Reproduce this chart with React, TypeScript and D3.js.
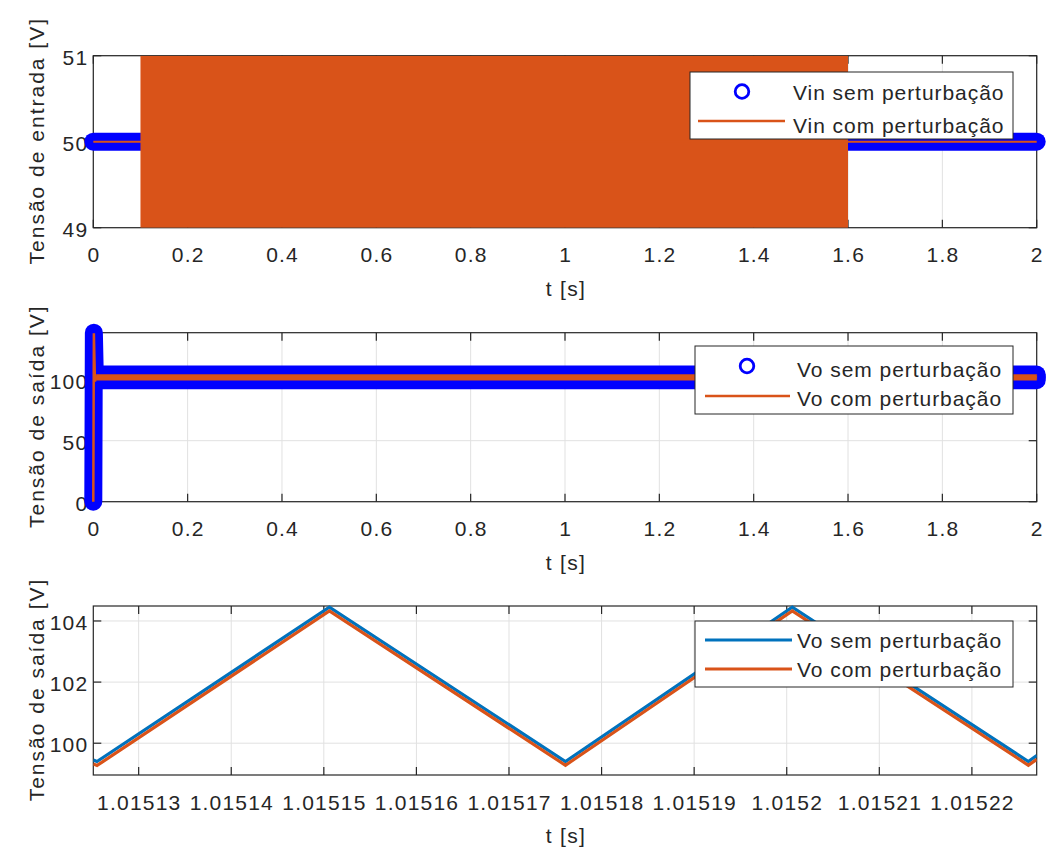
import React, { useEffect, useRef } from 'react';
import * as d3 from 'd3';

// eixos
const fullTicks = [0, 0.2, 0.4, 0.6, 0.8, 1, 1.2, 1.4, 1.6, 1.8, 2];
const fullTickLabels = ['0', '0.2', '0.4', '0.6', '0.8', '1', '1.2', '1.4', '1.6', '1.8', '2'];
const vinYTicks = [49, 50, 51];
const voYTicks = [0, 50, 100];
const zoomXTicks = [1.01513, 1.01514, 1.01515, 1.01516, 1.01517, 1.01518, 1.01519, 1.0152, 1.01521, 1.01522];
const zoomXTickLabels = ['1.01513', '1.01514', '1.01515', '1.01516', '1.01517', '1.01518', '1.01519', '1.0152', '1.01521', '1.01522'];
const zoomYTicks = [100, 102, 104];

// tensão de entrada
const vinT = [0, 2];
const vinSem = [50, 50];
const vinComT = [0, 0.1, 0.1, 1.6, 1.6, 2];
const vinComMin = [50, 50, 49, 49, 50, 50];
const vinComMax = [50, 50, 51, 51, 50, 50];

// tensão de saída (simulação completa)
const voT = [0, 0.0012, 0.0035, 0.006, 2];
const voSem = [0, 138.5, 98, 102, 102];
const voCom = [0, 138, 98.5, 102, 102];
const voRippleT = [0.006, 2];
const voRippleMin = [99.6, 99.6];
const voRippleMax = [104.2, 104.2];

// tensão de saída (zoom)
const zoomT = [1.0151251, 1.0151255, 1.0151506, 1.0151761, 1.0152006, 1.0152261, 1.015227];
const voSemZoom = [99.45, 99.4, 104.45, 99.4, 104.45, 99.4, 99.6];
const voComZoom = [99.32, 99.27, 104.33, 99.28, 104.33, 99.28, 99.47];

const FONT = '"Liberation Sans", Arial, Helvetica, sans-serif';
const TXT = '#262626';
const ORANGE = '#D95319';
const BLUE = '#0072BD';
const MARK = '#0000FF';

const App = () => {
  const ref = useRef<SVGSVGElement>(null);

  useEffect(() => {
    const svg = d3.select(ref.current);
    svg.selectAll('*').remove();

    const left = 93.3;
    const right = 1036.7;

    const drawAxes = (
      g: any, x: any, y: any, top: number, bottom: number,
      xt: number[], xl: string[], yt: number[], ylabel: string
    ) => {
      // grade
      g.append('g').selectAll('line').data(xt).enter().append('line')
        .attr('x1', (d: number) => x(d)).attr('x2', (d: number) => x(d))
        .attr('y1', top).attr('y2', bottom)
        .attr('stroke', '#e1e1e1').attr('stroke-width', 1);
      g.append('g').selectAll('line').data(yt).enter().append('line')
        .attr('x1', left).attr('x2', right)
        .attr('y1', (d: number) => y(d)).attr('y2', (d: number) => y(d))
        .attr('stroke', '#e1e1e1').attr('stroke-width', 1);

      // caixa
      g.append('rect')
        .attr('x', left).attr('y', top)
        .attr('width', right - left).attr('height', bottom - top)
        .attr('fill', 'none').attr('stroke', TXT).attr('stroke-width', 1.2);

      const tl = 8;
      const ticks = g.append('g').attr('stroke', TXT).attr('stroke-width', 1.2);
      xt.forEach(d => {
        ticks.append('line').attr('x1', x(d)).attr('x2', x(d)).attr('y1', bottom).attr('y2', bottom - tl);
        ticks.append('line').attr('x1', x(d)).attr('x2', x(d)).attr('y1', top).attr('y2', top + tl);
      });
      yt.forEach(d => {
        ticks.append('line').attr('x1', left).attr('x2', left + tl).attr('y1', y(d)).attr('y2', y(d));
        ticks.append('line').attr('x1', right).attr('x2', right - tl).attr('y1', y(d)).attr('y2', y(d));
      });

      // rótulos
      g.append('g').selectAll('text').data(xt).enter().append('text')
        .attr('x', (d: number) => x(d) + 0.6).attr('y', bottom + 34.5)
        .attr('text-anchor', 'middle')
        .style('font-family', FONT).style('font-size', '21px').style('letter-spacing', '1.2px')
        .attr('fill', TXT)
        .text((d: number, i: number) => xl[i]);
      g.append('g').selectAll('text').data(yt).enter().append('text')
        .attr('x', left - 5).attr('y', (d: number) => y(d) + 9)
        .attr('text-anchor', 'end')
        .style('font-family', FONT).style('font-size', '21px').style('letter-spacing', '1.2px')
        .attr('fill', TXT)
        .text((d: number) => String(d));

      g.append('text')
        .attr('x', (left + right) / 2 + 1).attr('y', bottom + 68)
        .attr('text-anchor', 'middle')
        .style('font-family', FONT).style('font-size', '21px').style('letter-spacing', '1.3px')
        .attr('fill', TXT)
        .text('t [s]');
      g.append('text')
        .attr('transform', `translate(43.5,${(top + bottom) / 2 - 1}) rotate(-90)`)
        .attr('text-anchor', 'middle')
        .style('font-family', FONT).style('font-size', '21px').style('letter-spacing', '2px')
        .attr('fill', TXT)
        .text(ylabel);
    };

    const drawLegend = (g: any, box: number[], items: any[]) => {
      const [x0, y0, x1, y1] = box;
      g.append('rect')
        .attr('x', x0).attr('y', y0).attr('width', x1 - x0).attr('height', y1 - y0)
        .attr('fill', '#fff').attr('stroke', TXT).attr('stroke-width', 1);
      items.forEach(it => {
        if (it.kind === 'circle') {
          g.append('circle').attr('cx', it.mx).attr('cy', it.my).attr('r', 6.8)
            .attr('fill', 'none').attr('stroke', MARK).attr('stroke-width', 2.8);
        } else {
          g.append('line').attr('x1', it.lx0).attr('x2', it.lx1).attr('y1', it.my).attr('y2', it.my)
            .attr('stroke', it.color).attr('stroke-width', it.w);
        }
        g.append('text')
          .attr('x', it.tx).attr('y', it.ty)
          .style('font-family', FONT).style('font-size', '21px').style('letter-spacing', '0.95px')
          .attr('fill', TXT)
          .text(it.label);
      });
    };

    // ---------- painel 1 ----------
    const p1 = { top: 55.7, bottom: 227.7 };
    const x1 = d3.scaleLinear().domain([0, 2]).range([left, right]);
    const y1 = d3.scaleLinear().domain([49, 51]).range([p1.bottom, p1.top]);
    const g1 = svg.append('g');
    drawAxes(g1, x1, y1, p1.top, p1.bottom, fullTicks, fullTickLabels, vinYTicks, 'Tensão de entrada [V]');

    g1.append('clipPath').attr('id', 'clip1').append('rect')
      .attr('x', left).attr('y', p1.top).attr('width', right - left).attr('height', p1.bottom - p1.top);

    const vinSemData = vinT.map((t, i) => ({ t, v: vinSem[i] }));
    const vinLine = d3.line<any>().x(d => x1(d.t)).y(d => y1(d.v));
    g1.append('path').datum(vinSemData).attr('d', vinLine)
      .attr('fill', 'none').attr('stroke', MARK).attr('stroke-width', 18)
      .attr('stroke-linecap', 'round');

    const vinComData = vinComT.map((t, i) => ({ t, lo: vinComMin[i], hi: vinComMax[i] }));
    g1.append('path').datum(vinComData)
      .attr('d', d3.area<any>().x(d => x1(d.t)).y0(d => y1(d.lo)).y1(d => y1(d.hi)))
      .attr('fill', ORANGE).attr('clip-path', 'url(#clip1)');
    g1.append('path').datum(vinComData)
      .attr('d', d3.line<any>().x(d => x1(d.t)).y(d => y1((d.lo + d.hi) / 2)))
      .attr('fill', 'none').attr('stroke', ORANGE).attr('stroke-width', 2);

    drawLegend(g1, [690, 72, 1013, 139], [
      { kind: 'circle', mx: 742, my: 91.5, tx: 793, ty: 100, label: 'Vin sem perturbação' },
      { kind: 'line', color: ORANGE, w: 2.5, lx0: 698, lx1: 785, my: 121, tx: 793, ty: 132.5, label: 'Vin com perturbação' },
    ]);

    // ---------- painel 2 ----------
    const p2 = { top: 332.7, bottom: 501.7 };
    const x2 = d3.scaleLinear().domain([0, 2]).range([left, right]);
    const y2 = d3.scaleLinear().domain([0, 138.5]).range([p2.bottom, p2.top]);
    const g2 = svg.append('g');
    drawAxes(g2, x2, y2, p2.top, p2.bottom, fullTicks, fullTickLabels, voYTicks, 'Tensão de saída [V]');

    const voLine = d3.line<any>().x(d => x2(d.t)).y(d => y2(d.v));
    const voRipple = voRippleT.map((t, i) => ({ t, lo: voRippleMin[i], hi: voRippleMax[i] }));
    const rippleArea = d3.area<any>().x(d => x2(d.t)).y0(d => y2(d.lo)).y1(d => y2(d.hi));

    g2.append('path').datum(voT.map((t, i) => ({ t, v: voSem[i] }))).attr('d', voLine)
      .attr('fill', 'none').attr('stroke', MARK).attr('stroke-width', 18)
      .attr('stroke-linecap', 'round').attr('stroke-linejoin', 'round');
    g2.append('path').datum(voRipple).attr('d', rippleArea)
      .attr('fill', MARK).attr('stroke', MARK).attr('stroke-width', 18)
      .attr('stroke-linecap', 'round').attr('stroke-linejoin', 'round');

    g2.append('path').datum(voT.map((t, i) => ({ t, v: voCom[i] }))).attr('d', voLine)
      .attr('fill', 'none').attr('stroke', ORANGE).attr('stroke-width', 2.5);
    g2.append('path').datum(voRipple).attr('d', rippleArea)
      .attr('fill', ORANGE).attr('stroke', ORANGE).attr('stroke-width', 0.5);

    drawLegend(g2, [695, 346, 1013, 414], [
      { kind: 'circle', mx: 747, my: 366, tx: 797, ty: 377, label: 'Vo sem perturbação' },
      { kind: 'line', color: ORANGE, w: 2.5, lx0: 705, lx1: 790, my: 396, tx: 797, ty: 405.5, label: 'Vo com perturbação' },
    ]);

    // ---------- painel 3 ----------
    const p3 = { top: 606, bottom: 775 };
    const x3 = d3.scaleLinear().domain([1.0151251, 1.015227]).range([left, right]);
    const y3 = d3.scaleLinear().domain([98.96, 104.49]).range([p3.bottom, p3.top]);
    const g3 = svg.append('g');
    drawAxes(g3, x3, y3, p3.top, p3.bottom, zoomXTicks, zoomXTickLabels, zoomYTicks, 'Tensão de saída [V]');

    g3.append('clipPath').attr('id', 'clip3').append('rect')
      .attr('x', left).attr('y', p3.top - 2).attr('width', right - left).attr('height', p3.bottom - p3.top + 4);

    const zLine = d3.line<any>().x(d => x3(d.t)).y(d => y3(d.v));
    g3.append('path').datum(zoomT.map((t, i) => ({ t, v: voSemZoom[i] }))).attr('d', zLine)
      .attr('fill', 'none').attr('stroke', BLUE).attr('stroke-width', 3.2).attr('clip-path', 'url(#clip3)');
    g3.append('path').datum(zoomT.map((t, i) => ({ t, v: voComZoom[i] }))).attr('d', zLine)
      .attr('fill', 'none').attr('stroke', ORANGE).attr('stroke-width', 3.2).attr('clip-path', 'url(#clip3)');

    drawLegend(g3, [695, 621, 1013, 687], [
      { kind: 'line', color: BLUE, w: 3, lx0: 705, lx1: 792, my: 640, tx: 797, ty: 648, label: 'Vo sem perturbação' },
      { kind: 'line', color: ORANGE, w: 3, lx0: 705, lx1: 792, my: 669, tx: 797, ty: 677, label: 'Vo com perturbação' },
    ]);
  }, []);

  return (
    <svg
      ref={ref}
      width={1046}
      height={853}
      style={{ position: 'absolute', left: 0, top: 0, background: '#fff' }}
    />
  );
};

export default App;
